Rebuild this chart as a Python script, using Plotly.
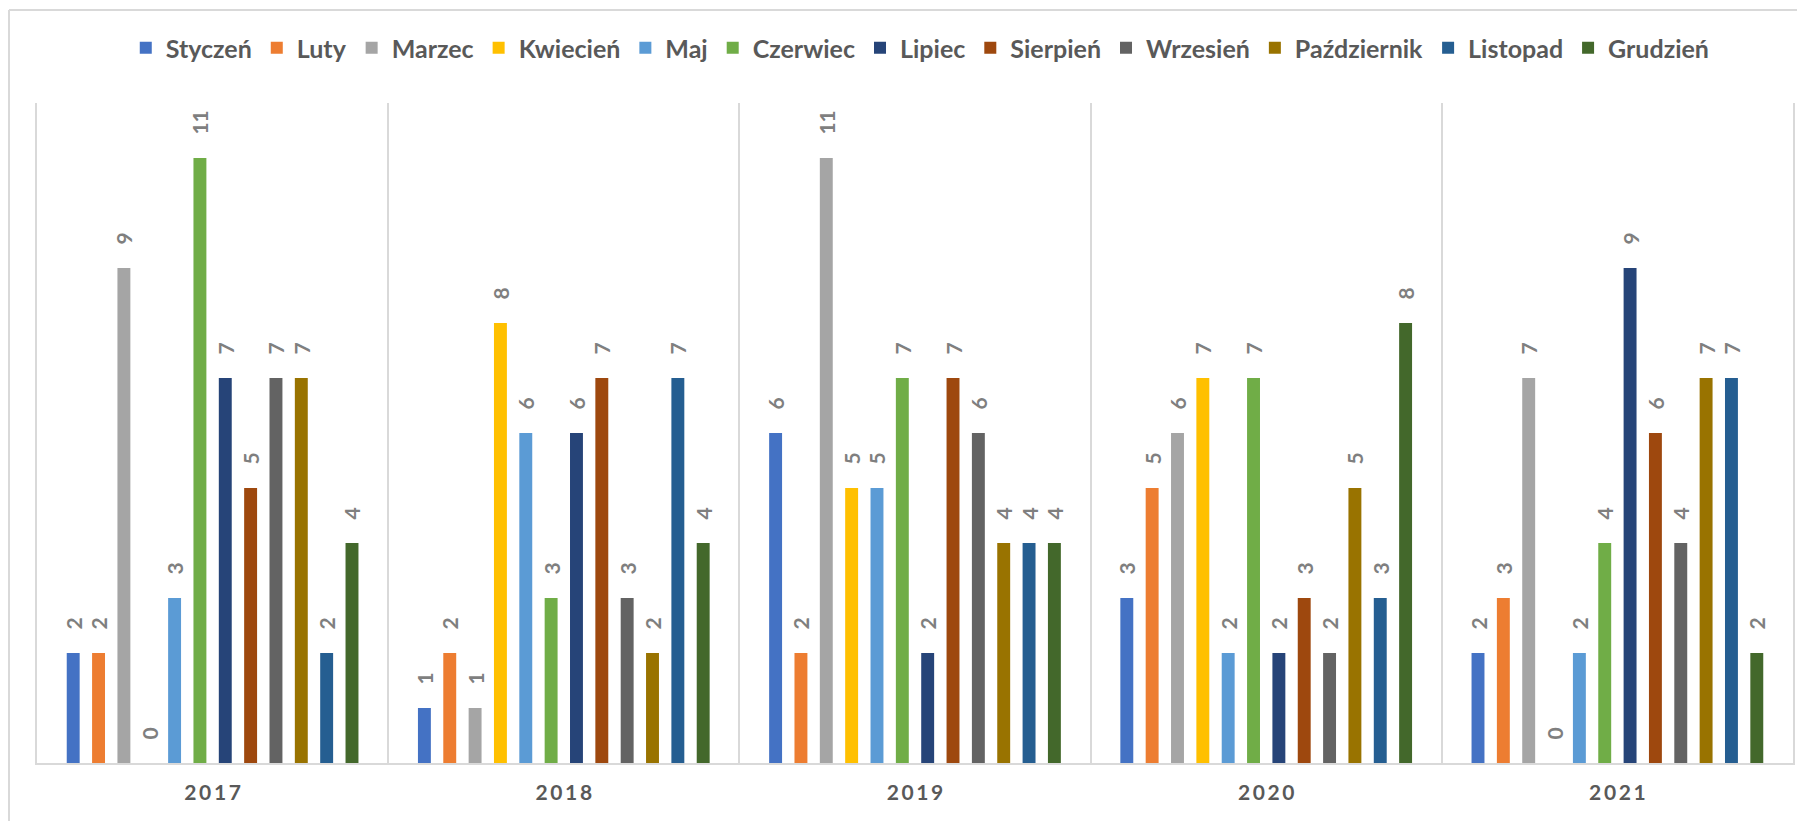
import plotly.graph_objects as go

years = ["2017", "2018", "2019", "2020", "2021"]
months = ["Styczeń", "Luty", "Marzec", "Kwiecień", "Maj", "Czerwiec", "Lipiec",
          "Sierpień", "Wrzesień", "Październik", "Listopad", "Grudzień"]
colors = ["#4472C4", "#ED7D31", "#A5A5A5", "#FFC000", "#5B9BD5", "#70AD47",
          "#264478", "#9E480E", "#636363", "#997300", "#255E91", "#43682B"]

styczen = [2, 1, 6, 3, 2]
luty = [2, 2, 2, 5, 3]
marzec = [9, 1, 11, 6, 7]
kwiecien = [0, 8, 5, 7, 0]
maj = [3, 6, 5, 2, 2]
czerwiec = [11, 3, 7, 7, 4]
lipiec = [7, 6, 2, 2, 9]
sierpien = [5, 7, 7, 3, 6]
wrzesien = [7, 3, 6, 2, 4]
pazdziernik = [7, 2, 4, 5, 7]
listopad = [2, 7, 4, 3, 7]
grudzien = [4, 4, 4, 8, 2]

series = [styczen, luty, marzec, kwiecien, maj, czerwiec, lipiec,
          sierpien, wrzesien, pazdziernik, listopad, grudzien]

# the page body adds an 8px margin, so the figure is laid out 8px up/left
W, H = 1805, 821
ML, MR, MT, MB = 29, 20, 95, 66
GRID = "#D9D9D9"
FONT = "Lato"

fig = go.Figure()
for name, values, color in zip(months, series, colors):
    fig.add_trace(go.Bar(
        x=years, y=values, name=name,
        marker=dict(color=color, line=dict(width=0)),
        text=values, texttemplate="    %{text}", textposition="outside", textangle=-90,
        constraintext="none",
        textfont=dict(family=FONT, size=21, color="#7F7F7F", weight="bold"),
        cliponaxis=False,
    ))

# outer chart border (top and left edges), in paper coordinates
pw = W - ML - MR
ph = H - MT - MB
bx = (1 - ML) / pw
by = (H - 2 - MB) / ph
fig.add_shape(type="line", xref="paper", yref="paper", x0=bx, x1=(W - ML) / pw,
              y0=by, y1=by, line=dict(color=GRID, width=2))
fig.add_shape(type="line", xref="paper", yref="paper", x0=bx, x1=bx,
              y0=by, y1=-MB / ph, line=dict(color=GRID, width=2))

# spaced-out year labels, like the original
year_labels = ["\u2009".join(y) for y in years]

fig.update_layout(
    width=W, height=H,
    margin=dict(l=ML, r=MR, t=MT, b=MB, autoexpand=False),
    paper_bgcolor="white", plot_bgcolor="white",
    barmode="group", bargap=0.134, bargroupgap=0.49,
    showlegend=True,
    legend=dict(orientation="h", x=0.503, xanchor="center", y=1 + 55 / ph, yanchor="middle",
                font=dict(family=FONT, size=25, color="#595959", weight="bold"),
                itemwidth=30, traceorder="normal"),
    xaxis=dict(
        type="category", tickson="boundaries", showgrid=True, gridcolor=GRID, gridwidth=2,
        showline=True, linecolor=GRID, linewidth=2, ticks="",
        tickmode="array", tickvals=years, ticktext=year_labels,
        tickfont=dict(family=FONT, size=21, color="#595959", weight="bold"),
        ticklabelstandoff=10,
    ),
    yaxis=dict(
        range=[0, 12], showgrid=False, showticklabels=False, zeroline=False,
        showline=True, mirror=True, linecolor=GRID, linewidth=2, ticks="",
    ),
)

fig.write_html("out.html")
